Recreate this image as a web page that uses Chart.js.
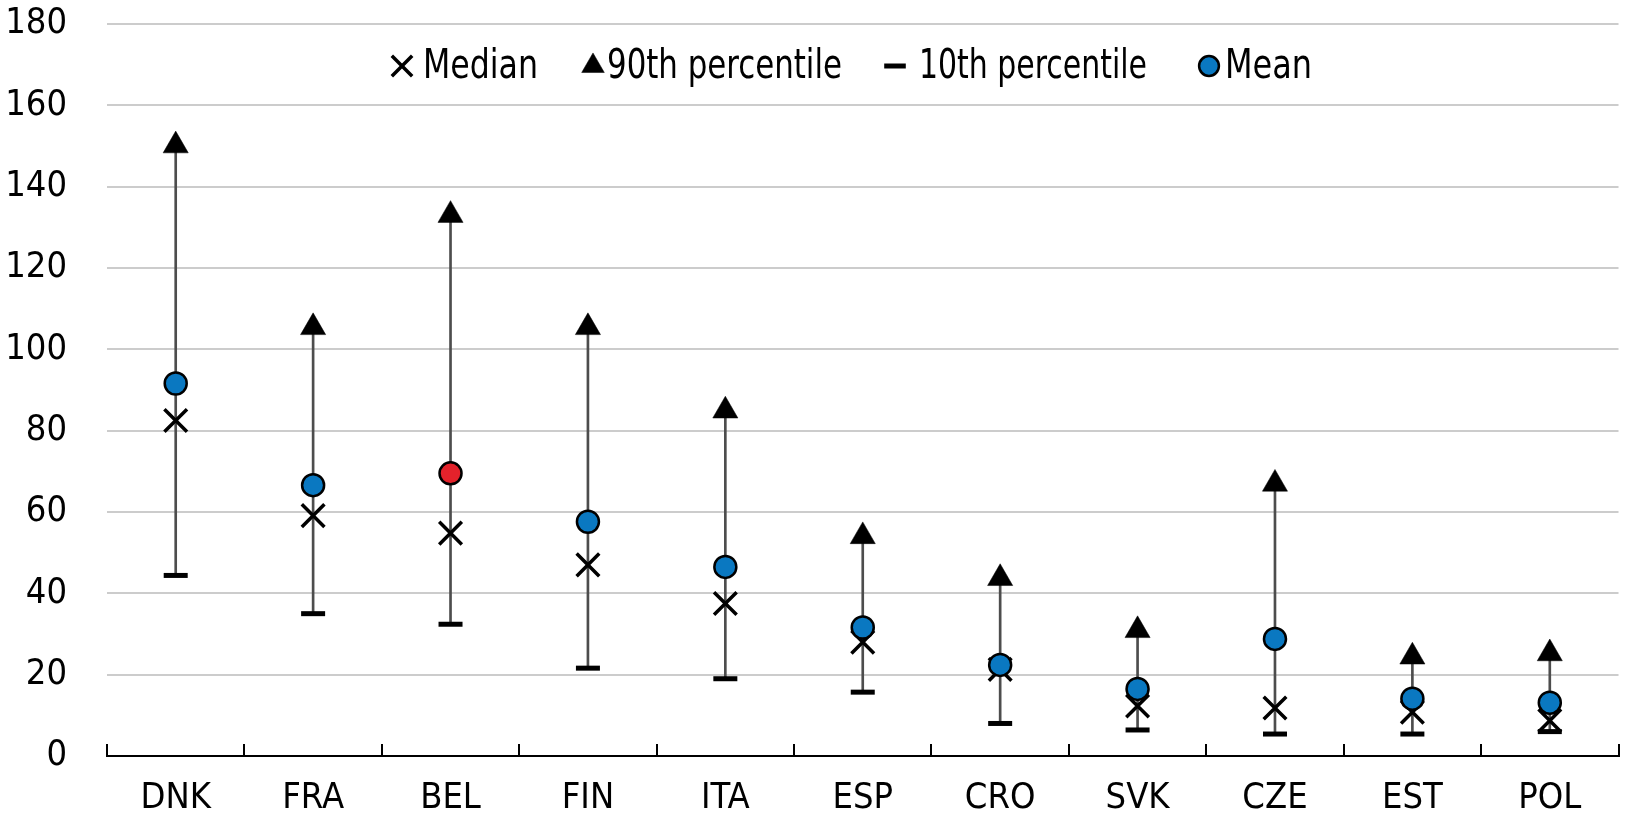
<!DOCTYPE html>
<html>
<head>
<meta charset="utf-8">
<script src="https://cdn.jsdelivr.net/npm/chart.js@4"></script>
<style>
  body { margin: 0; background: #fff; }
  #wrap { width: 1638px; height: 815px; position: relative; }
</style>
</head>
<body>
<div id="wrap"><canvas id="spreadChart"></canvas></div>
<script>
// values
const countries = ["DNK", "FRA", "BEL", "FIN", "ITA", "ESP", "CRO", "SVK", "CZE", "EST", "POL"];
const median = [82.5, 59.1, 54.8, 47.0, 37.5, 28.0, 21.3, 12.3, 11.8, 10.8, 8.7];
const p90 = [150.1, 105.4, 133.0, 105.4, 84.9, 54.0, 43.7, 30.9, 66.9, 24.4, 25.2];
const p10 = [44.4, 35.0, 32.4, 21.6, 19.0, 15.7, 8.0, 6.4, 5.4, 5.4, 6.0];
const mean = [91.6, 66.6, 69.5, 57.6, 46.5, 31.6, 22.4, 16.5, 28.8, 14.1, 13.1];
const highlighted = "BEL";
const yTicks = [0, 20, 40, 60, 80, 100, 120, 140, 160, 180];

const FONT = "'Liberation Sans Narrow', 'DejaVu Sans Condensed', 'Liberation Sans', sans-serif";
const blue = "#0A78C1";
const red = "#E3222B";

const meanColors = countries.map((c) => (c === highlighted ? red : blue));
const ranges = p10.map((v, i) => [v, p90[i]]);

// legend drawn inside the plot area, below the top gridline
const insideLegend = {
    id: "insideLegend",
    afterDraw(chart) {
        const ctx = chart.ctx;
        // dataset index, marker centre, text start, text width (narrow font look)
        const items = [
            { ds: 3, mx: 402, tx: 423, w: 115 },
            { ds: 2, mx: 593, tx: 607, w: 235 },
            { ds: 1, mx: 895, tx: 919, w: 228 },
            { ds: 4, mx: 1209, tx: 1225, w: 87 },
        ];
        const y = 66;
        ctx.save();
        items.forEach((it) => {
            const ds = chart.data.datasets[it.ds];
            ctx.fillStyle = Array.isArray(ds.pointBackgroundColor) ? blue : ds.pointBackgroundColor;
            ctx.strokeStyle = ds.pointBorderColor;
            ctx.lineWidth = ds.pointBorderWidth;
            Chart.helpers.drawPoint(ctx, {
                pointStyle: ds.pointStyle,
                radius: ds.pointRadius * 0.9,
                rotation: 0,
                borderWidth: ds.pointBorderWidth,
            }, it.mx, y);
            ctx.fillStyle = "#000";
            ctx.font = "41px " + FONT;
            ctx.textBaseline = "middle";
            ctx.textAlign = "left";
            ctx.fillText(ds.label, it.tx, y + 1, it.w);
        });
        ctx.restore();
    },
};

const ctx = document.getElementById("spreadChart").getContext("2d");
new Chart(ctx, {
    type: "bar",
    data: {
        labels: countries,
        datasets: [
            {
                type: "bar",
                label: "range",
                data: ranges,
                backgroundColor: "#4d4d4d",
                barThickness: 2,
                order: 5,
            },
            {
                type: "line",
                label: "10th percentile",
                data: p10,
                showLine: false,
                pointStyle: "line",
                pointRadius: 12,
                pointBorderWidth: 5,
                pointBorderColor: "#000",
                pointBackgroundColor: "#000",
                order: 3,
                clip: false,
            },
            {
                type: "line",
                label: "90th percentile",
                data: p90,
                showLine: false,
                pointStyle: "triangle",
                pointRadius: 14.5,
                pointBorderWidth: 0.5,
                pointBorderColor: "#000",
                pointBackgroundColor: "#000",
                order: 2,
                clip: false,
            },
            {
                type: "line",
                label: "Median",
                data: median,
                showLine: false,
                pointStyle: "crossRot",
                pointRadius: 16,
                pointBorderWidth: 3.5,
                pointBorderColor: "#000",
                pointBackgroundColor: "#000",
                order: 1,
                clip: false,
            },
            {
                type: "line",
                label: "Mean",
                data: mean,
                showLine: false,
                pointStyle: "circle",
                pointRadius: 11,
                pointBorderWidth: 2.5,
                pointBorderColor: "#000",
                pointBackgroundColor: meanColors,
                order: 0,
                clip: false,
            },
        ],
    },
    options: {
        responsive: true,
        maintainAspectRatio: false,
        animation: false,
        layout: { padding: { top: 24, right: 1, left: 0, bottom: 0 } },
        plugins: {
            legend: { display: false },
            tooltip: { enabled: false },
        },
        scales: {
            x: {
                offset: true,
                grid: {
                    offset: true,
                    drawOnChartArea: false,
                    drawTicks: true,
                    tickLength: -12,
                    color: "#000",
                    lineWidth: 2,
                },
                border: { display: true, color: "#000", width: 2 },
                ticks: {
                    color: "#000",
                    font: { size: 36, family: FONT },
                    padding: 33,
                    maxRotation: 0,
                },
                afterFit: (scale) => {
                    scale.height = 59;
                    scale.paddingLeft = 0;
                    scale.paddingRight = 0;
                },
            },
            y: {
                min: 0,
                max: 180,
                afterBuildTicks: (scale) => { scale.ticks = yTicks.map((v) => ({ value: v })); },
                grid: { color: "#cccccc", lineWidth: 2, drawTicks: false },
                border: { display: false },
                ticks: {
                    color: "#000",
                    font: { size: 36, family: FONT },
                    padding: 40,
                },
                afterFit: (scale) => {
                    scale.width = 107;
                    scale.paddingTop = 0;
                    scale.paddingBottom = 0;
                },
            },
        },
    },
    plugins: [insideLegend],
});
</script>
</body>
</html>
